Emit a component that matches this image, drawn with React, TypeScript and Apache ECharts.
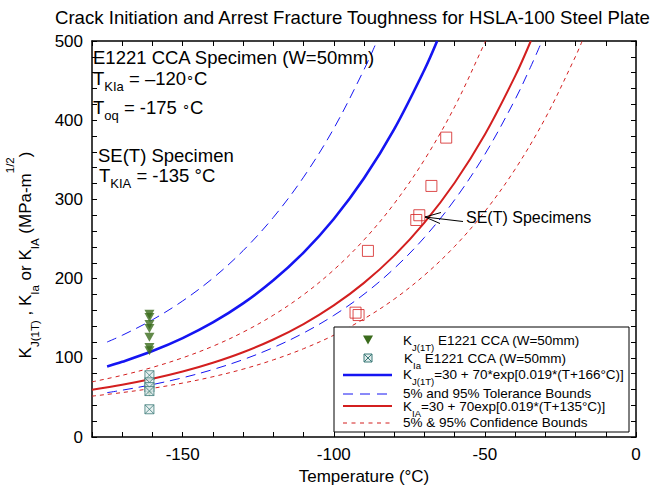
import React, { useEffect, useRef } from 'react';
import * as echarts from 'echarts';

const FONT = '"Liberation Sans", Arial, Helvetica, sans-serif';
const BLUE = '#1515f2';
const RED = '#d31f1f';
const GREEN = '#3a6b1c';
const TEAL = '#3c7a78';

const titleText = 'Crack Initiation and Arrest Fracture Toughness for HSLA-100 Steel Plate';
const xTitle = 'Temperature (°C)';
const yTitle = '{k|K}{s|J(1T)}{k| , K}{s|Ia}{k| or K}{s|IA}{k| (MPa-m}{p|1/2}{k|)}';

const xTickLabels = [-150, -100, -50, 0];
const yTickLabels = [0, 100, 200, 300, 400, 500];

// K_J(1T) master curve (blue) and 5% / 95% tolerance bounds
const kjMedTemps = [-175, -170, -160, -150, -140, -130, -120, -110, -100, -90, -80, -70, -65.8];
const kjMedVals = [89.0, 94.9, 108.5, 124.9, 144.7, 168.7, 197.8, 232.9, 275.3, 326.6, 388.7, 463.7, 500];
const kjUpTemps = [-175, -170, -160, -150, -140, -130, -120, -110, -100, -90, -85.7];
const kjUpVals = [119.9, 128.4, 148.0, 171.8, 200.5, 235.3, 277.3, 328.1, 389.5, 463.8, 500];
const kjLoTemps = [-175, -170, -160, -150, -140, -130, -120, -110, -100, -90, -80, -70, -60, -50, -40, -35, -31.1];
const kjLoVals = [56.0, 59.1, 66.2, 74.8, 85.2, 97.7, 112.9, 131.3, 153.5, 180.3, 212.8, 252.0, 299.5, 356.9, 426.2, 466.2, 500];

// K_IA curve (red) and 5% / 95% confidence bounds
const kiaMedTemps = [-180, -170, -160, -150, -140, -130, -120, -110, -100, -90, -80, -70, -60, -50, -40, -34.8];
const kiaMedVals = [59.8, 66.0, 73.5, 82.6, 93.7, 107.0, 123.1, 142.6, 166.1, 194.6, 229.0, 270.7, 321.0, 381.9, 455.6, 500];
const kiaUpTemps = [-180, -170, -160, -150, -140, -130, -120, -110, -100, -90, -80, -70, -60, -50, -49.8];
const kiaUpVals = [69.6, 77.9, 87.9, 100.0, 114.6, 132.4, 153.8, 179.7, 211.0, 248.9, 294.7, 350.1, 417.0, 498.0, 500];
const kiaLoTemps = [-180, -170, -160, -150, -140, -130, -120, -110, -100, -90, -80, -70, -60, -50, -40, -30, -20, -17.8];
const kiaLoVals = [51.6, 56.1, 61.5, 68.1, 76.1, 85.7, 97.4, 111.5, 128.5, 149.2, 174.1, 204.3, 240.7, 284.8, 338.1, 402.6, 480.6, 500];

// measured data
const kjCcaTemps = [-161, -161, -161, -161, -161, -161, -161, -161];
const kjCcaVals = [155, 151, 142, 137, 126, 113, 109, 57];
const kiaCcaTemps = [-161, -161, -161, -161, -161];
const kiaCcaVals = [78, 69, 63, 58, 35];
const setTemps = [-62.8, -67.7, -71.7, -72.7, -88.7, -92.8, -91.8];
const setVals = [378, 317, 280, 274, 235, 157, 154];

const pairs = (xs: number[], ys: number[]) => xs.map((x, i) => [x, ys[i]]);

function lineSeries(name: string, xs: number[], ys: number[], color: string, width: number, dash?: number[]) {
  return {
    name,
    type: 'line',
    data: pairs(xs, ys),
    showSymbol: false,
    symbol: 'none',
    smooth: 0.35,
    silent: true,
    z: 3,
    lineStyle: { color, width, type: dash ? dash : 'solid' },
  };
}

const axisLineStyle = { show: true, onZero: false, lineStyle: { color: '#000', width: 1.5 } };
const tickStyle = { show: true, inside: true, length: 5, lineStyle: { color: '#000', width: 1 } };

export default function App() {
  const ref = useRef<HTMLDivElement>(null);
  useEffect(() => {
    const chart = echarts.init(ref.current!, null, { renderer: 'svg' });
    const legRich = {
      b: { fontSize: 13.5, fontFamily: FONT, fill: '#000' },
      s: { fontSize: 9.5, fontFamily: FONT, fill: '#000', padding: [14, 0, 0, 0] },
    };
    const annRich = {
      b: { fontSize: 18.5, fontFamily: FONT, fill: '#000' },
      s: { fontSize: 13, fontFamily: FONT, fill: '#000', padding: [16, 0, 0, 0] },
      d: { fontSize: 13, fontFamily: FONT, fill: '#000', padding: [0, 0, 4, 0] },
    };
    const yRich = {
      k: { fontSize: 17, fontFamily: FONT, fill: '#000' },
      s: { fontSize: 11.5, fontFamily: FONT, fill: '#000', padding: [20, 0, 0, 0] },
      p: { fontSize: 11.5, fontFamily: FONT, fill: '#000', padding: [0, 0, 30, 0] },
    };
    const legText = (x: number, y: number, text: string) => ({
      type: 'text', x, y, z: 101,
      style: { text, rich: legRich, fontSize: 13.5, fontFamily: FONT, fill: '#000', verticalAlign: 'middle', align: 'left' },
    });
    const annText = (x: number, y: number, text: string) => ({
      type: 'text', x, y, z: 101,
      style: { text, rich: annRich, fontSize: 18.5, fontFamily: FONT, fill: '#000', verticalAlign: 'middle', align: 'left' },
    });
    const option: any = {
      animation: false,
      backgroundColor: '#fff',
      title: {
        text: titleText,
        left: 55,
        top: 8,
        padding: 0,
        textStyle: { fontSize: 18.6, fontWeight: 'normal', fontFamily: FONT, color: '#000' },
      },
      grid: { left: 92, right: 20, top: 41, bottom: 53, containLabel: false },
      xAxis: [
        {
          type: 'value', min: -180, max: 0, interval: 10, position: 'bottom',
          axisLine: axisLineStyle, axisTick: tickStyle, splitLine: { show: false },
          axisLabel: {
            margin: 9, fontSize: 17, color: '#000', fontFamily: FONT,
            formatter: (v: number) => (xTickLabels.includes(Math.round(v)) ? String(Math.round(v)) : ''),
          },
          name: xTitle, nameLocation: 'middle', nameGap: 22,
          nameTextStyle: { fontSize: 17, color: '#000', fontFamily: FONT },
        },
        {
          type: 'value', min: -180, max: 0, interval: 10, position: 'top',
          axisLine: axisLineStyle, axisTick: tickStyle, splitLine: { show: false },
          axisLabel: { show: false },
        },
      ],
      yAxis: [
        {
          type: 'value', min: 0, max: 500, interval: 20, position: 'left',
          axisLine: axisLineStyle, axisTick: tickStyle, splitLine: { show: false },
          axisLabel: {
            margin: 9, fontSize: 17, color: '#000', fontFamily: FONT,
            formatter: (v: number) => (yTickLabels.includes(Math.round(v)) ? String(Math.round(v)) : ''),
          },
        },
        {
          type: 'value', min: 0, max: 500, interval: 20, position: 'right',
          axisLine: axisLineStyle, axisTick: tickStyle, splitLine: { show: false },
          axisLabel: { show: false },
        },
      ],
      series: [
        lineSeries('kjUp', kjUpTemps, kjUpVals, BLUE, 1, [10, 6]),
        lineSeries('kjLo', kjLoTemps, kjLoVals, BLUE, 1, [10, 6]),
        lineSeries('kiaUp', kiaUpTemps, kiaUpVals, RED, 1, [4, 4]),
        lineSeries('kiaLo', kiaLoTemps, kiaLoVals, RED, 1, [4, 4]),
        lineSeries('kjMed', kjMedTemps, kjMedVals, BLUE, 2.6),
        lineSeries('kiaMed', kiaMedTemps, kiaMedVals, RED, 2),
        {
          name: 'KJ CCA', type: 'scatter', data: pairs(kjCcaTemps, kjCcaVals),
          symbol: 'triangle', symbolRotate: 180, symbolSize: [10, 9], z: 5,
          itemStyle: { color: GREEN },
        },
        {
          name: 'KIa CCA', type: 'scatter', data: pairs(kiaCcaTemps, kiaCcaVals),
          symbol: 'path://M0 0H10V10H0Z M0 0L10 10 M10 0L0 10', symbolSize: 9, z: 6,
          itemStyle: { color: '#e2eded', borderColor: TEAL, borderWidth: 1 },
        },
        {
          name: 'SE(T)', type: 'scatter', data: pairs(setTemps, setVals),
          symbol: 'rect', symbolSize: 11, z: 6,
          itemStyle: { color: 'rgba(255,255,255,0)', borderColor: RED, borderWidth: 1 },
        },
      ],
      graphic: [
        {
          type: 'text', x: 25, y: 255, rotation: Math.PI / 2, z: 101,
          style: { text: yTitle, rich: yRich, fontSize: 17, fontFamily: FONT, fill: '#000', align: 'center', verticalAlign: 'middle' },
        },
        annText(93, 57, 'E1221 CCA Specimen (W=50mm)'),
        annText(93, 78, '{b|T}{s|KIa}{b| = –120}{d|∘}{b|C}'),
        annText(93, 107, '{b|T}{s|oq}{b| = -175 }{d|∘}{b|C}'),
        annText(98, 155, 'SE(T) Specimen'),
        annText(99, 175, '{b|T}{s|KIA}{b| = -135 °C}'),
        // SE(T) annotation
        { type: 'line', z: 101, shape: { x1: 425, y1: 217, x2: 463, y2: 221.5 }, style: { stroke: '#000', lineWidth: 1.2 } },
        { type: 'line', z: 101, shape: { x1: 425, y1: 217, x2: 441, y2: 212.5 }, style: { stroke: '#000', lineWidth: 1 } },
        { type: 'line', z: 101, shape: { x1: 425, y1: 217, x2: 440, y2: 223.5 }, style: { stroke: '#000', lineWidth: 1 } },
        {
          type: 'text', x: 466, y: 217, z: 101,
          style: { text: 'SE(T) Specimens', fontSize: 16, fontFamily: FONT, fill: '#000', verticalAlign: 'middle' },
        },
        // legend box
        { type: 'rect', z: 100, shape: { x: 334, y: 327, width: 295, height: 105 }, style: { fill: '#fff', stroke: '#000', lineWidth: 1 } },
        { type: 'polygon', z: 101, shape: { points: [[363, 335.5], [373, 335.5], [368, 344.5]] }, style: { fill: GREEN } },
        { type: 'rect', z: 101, shape: { x: 364, y: 354, width: 8, height: 8 }, style: { fill: '#e2eded', stroke: TEAL, lineWidth: 1 } },
        { type: 'line', z: 102, shape: { x1: 364, y1: 354, x2: 372, y2: 362 }, style: { stroke: TEAL, lineWidth: 1 } },
        { type: 'line', z: 102, shape: { x1: 372, y1: 354, x2: 364, y2: 362 }, style: { stroke: TEAL, lineWidth: 1 } },
        { type: 'line', z: 101, shape: { x1: 343, y1: 375, x2: 392, y2: 375 }, style: { stroke: BLUE, lineWidth: 2.5 } },
        { type: 'line', z: 101, shape: { x1: 343, y1: 394, x2: 392, y2: 394 }, style: { stroke: BLUE, lineWidth: 1, lineDash: [10, 7] } },
        { type: 'line', z: 101, shape: { x1: 343, y1: 406, x2: 392, y2: 406 }, style: { stroke: RED, lineWidth: 2 } },
        { type: 'line', z: 101, shape: { x1: 343, y1: 423, x2: 392, y2: 423 }, style: { stroke: RED, lineWidth: 1, lineDash: [4, 4.5] } },
        legText(403, 340, '{b|K}{s|J(1T)}{b| E1221 CCA (W=50mm)}'),
        legText(404, 358, '{b|K}{s|Ia}{b| E1221 CCA (W=50mm)}'),
        legText(403, 374, '{b|K}{s|J(1T)}{b|=30 + 70*exp[0.019*(T+166°C)]}'),
        legText(403, 393, '5% and 95% Tolerance Bounds'),
        legText(403, 406, '{b|K}{s|IA}{b|=30 + 70exp[0.019*(T+135°C)]}'),
        legText(403, 422, '5% & 95% Confidence Bounds'),
      ],
    };
    chart.setOption(option);
    return () => chart.dispose();
  }, []);
  return (
    <div
      ref={ref}
      style={{ position: 'fixed', left: 0, top: 0, width: 656, height: 490, background: '#fff' }}
    />
  );
}
